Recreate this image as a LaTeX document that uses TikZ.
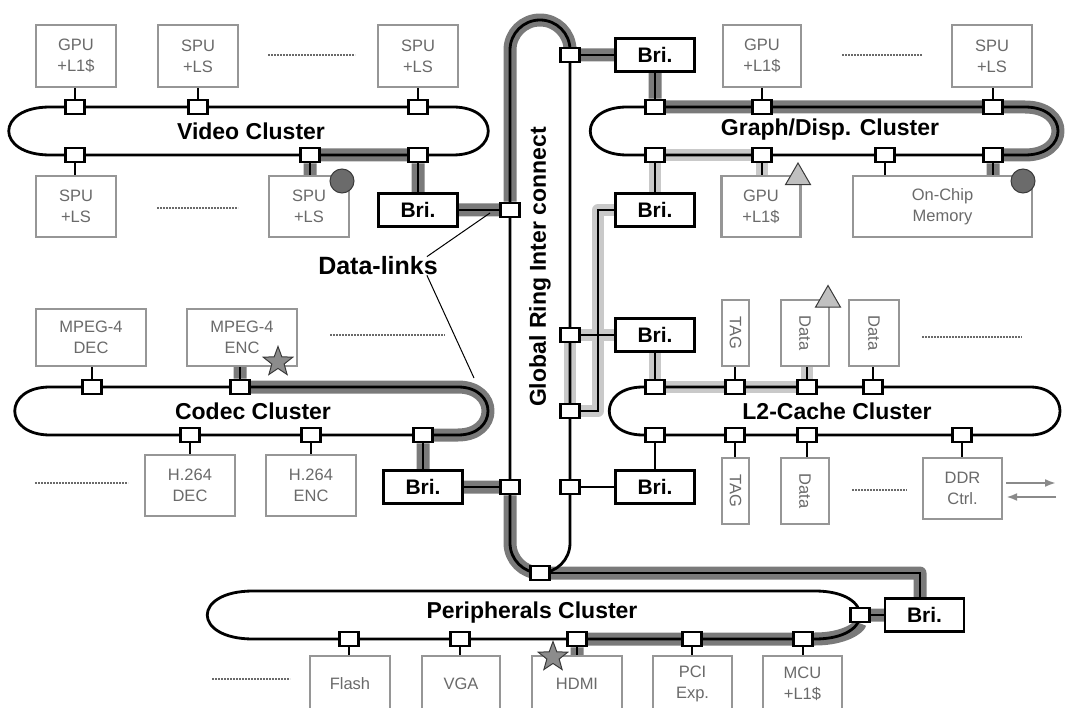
\documentclass[tikz,border=0pt]{standalone}
\usepackage{fontspec}
\setmainfont{Liberation Sans}
\usepackage{xcolor}
\definecolor{bandD}{HTML}{7A7A7A}
\definecolor{bandL}{HTML}{C9C9C9}
\definecolor{boxG}{HTML}{969696}
\definecolor{txtG}{HTML}{6A6A6A}
\definecolor{dotG}{HTML}{6A6A6A}
\definecolor{markE}{HTML}{3A3A3A}
\definecolor{markC}{HTML}{6B6B6B}
\definecolor{markS}{HTML}{8C8C8C}
\definecolor{markT}{HTML}{C0C0C0}
\definecolor{arrG}{HTML}{8A8A8A}
\usepackage{tikz}
\usetikzlibrary{arrows.meta,shapes.geometric,calc,backgrounds}
\tikzset{
  >={Latex[length=11pt,width=8pt]},
  ring/.style={draw=black,line width=2.8pt},
  link/.style={draw=black,line width=2.2pt},
  dband/.style={draw=bandD,line width=13pt,line join=round},
  lband/.style={draw=bandL,line width=12pt,line join=round},
  unitbox/.style={draw=boxG,fill=white,line width=2.4pt,inner sep=0pt,align=center,text=txtG,
    font=\fontsize{16.5}{21}\selectfont},
  bri/.style={draw=black,fill=white,line width=2.6pt,inner sep=0pt,minimum width=79pt,minimum height=33pt,
    font=\fontsize{21}{24}\selectfont\bfseries},
  port/.style={draw=black,fill=white,line width=2.6pt,inner sep=0pt,minimum width=19pt,minimum height=14pt},
  clab/.style={font=\fontsize{23}{26}\selectfont\bfseries,inner sep=0pt},
  more/.style={draw=dotG,line width=2pt,dash pattern=on 1.6pt off 1.4pt},
  hit/.style={circle,draw=markE,fill=markC,line width=1pt,minimum size=24pt,inner sep=0pt},
  tri/.style={regular polygon,regular polygon sides=3,draw=markE,fill=markT,line width=1pt,minimum size=29pt,inner sep=0pt},
  starm/.style={star,star points=5,star point ratio=2.4,draw=markE,fill=markS,line width=1pt,minimum size=31pt,inner sep=0pt},
  garr/.style={->,draw=arrG,line width=2pt},
}

\begin{document}
\begin{tikzpicture}[x=1pt,y=-1pt]
  \useasboundingbox (0,0) rectangle (1065,708);
  % video cluster
  \node[unitbox,minimum width=80pt,minimum height=62pt] (vT1) at (76,56) {GPU\\+L1\$};
  \node[unitbox,minimum width=80pt,minimum height=62pt] (vT2) at (198,56) {SPU\\+LS};
  \node[unitbox,minimum width=80pt,minimum height=62pt] (vT3) at (418,56) {SPU\\+LS};
  \node[unitbox,minimum width=80pt,minimum height=61pt] (vB1) at (76,206.5) {SPU\\+LS};
  \node[unitbox,minimum width=80pt,minimum height=61pt] (vB2) at (309,206.5) {SPU\\+LS};
  \node[bri] (bV) at (418,210) {Bri.};
  % graph/disp. cluster
  \node[unitbox,minimum width=78pt,minimum height=62pt] (gT1) at (762,56) {GPU\\+L1\$};
  \node[unitbox,minimum width=80pt,minimum height=62pt] (gT2) at (992,56) {SPU\\+LS};
  \node[unitbox,minimum width=79pt,minimum height=61pt] (gB1) at (761,206.5) {GPU\\+L1\$};
  \node[unitbox,minimum width=179pt,minimum height=61pt] (gB2) at (942.5,206.5) {On-Chip\\Memory};
  \node[bri] (bGt) at (655,55) {Bri.};
  \node[bri] (bGl) at (655,210) {Bri.};
  % codec cluster
  \node[unitbox,minimum width=110pt,minimum height=57pt] (cT1) at (91,337.5) {MPEG-4\\DEC};
  \node[unitbox,minimum width=110pt,minimum height=57pt] (cT2) at (242,337.5) {MPEG-4\\ENC};
  \node[unitbox,minimum width=90pt,minimum height=61pt] (cB1) at (190,485.5) {H.264\\DEC};
  \node[unitbox,minimum width=90pt,minimum height=61pt] (cB2) at (311,485.5) {H.264\\ENC};
  \node[bri] (bC) at (423,487) {Bri.};
  % l2-cache cluster
  \node[unitbox,rotate=-90,minimum width=66pt,minimum height=27pt] (lT1) at (735.5,333) {TAG};
  \node[unitbox,rotate=-90,minimum width=66pt,minimum height=48pt] (lT2) at (805,333) {Data};
  \node[unitbox,rotate=-90,minimum width=66pt,minimum height=50pt] (lT3) at (874,333) {Data};
  \node[unitbox,rotate=-90,minimum width=66pt,minimum height=27pt] (lB1) at (735.5,491) {TAG};
  \node[unitbox,rotate=-90,minimum width=66pt,minimum height=48pt] (lB2) at (805,491) {Data};
  \node[unitbox,minimum width=79pt,minimum height=61pt] (lB3) at (962.5,488.5) {DDR\\Ctrl.};
  \node[bri] (bLu) at (655,335) {Bri.};
  \node[bri] (bLl) at (655,487) {Bri.};
  % peripherals cluster
  \node[unitbox,minimum width=80pt,minimum height=55pt] (pB1) at (350,683.5) {Flash};
  \node[unitbox,minimum width=78pt,minimum height=55pt] (pB2) at (461,683.5) {VGA};
  \node[unitbox,minimum width=90pt,minimum height=55pt] (pB3) at (577,683.5) {HDMI};
  \node[unitbox,minimum width=79pt,minimum height=55pt] (pB4) at (692.5,683.5) {PCI\\Exp.};
  \node[unitbox,minimum width=79pt,minimum height=55pt] (pB5) at (802.5,683.5) {MCU\\+L1\$};
  \node[bri] (bP) at (924.5,615) {Bri.};
  % ring ports
  \foreach \n/\x/\y in {vp1/75/107,vp2/198/107,vp3/418/107,vp4/75/155,vp5/310/155,vp6/418/155,
      gp1/655/107,gp2/762/107,gp3/993/107,gp4/655/155,gp5/762/155,gp6/885/155,gp7/993/155,
      cp1/92/387,cp2/240/387,cp3/190/435,cp4/311/435,cp5/423/435,
      lp1/655/387,lp2/735/387,lp3/807/387,lp4/873/387,lp5/655/435,lp6/735/435,lp7/807/435,lp8/962/435,
      pp1/349/639,pp2/460/639,pp3/577/639,pp4/692/639,pp5/803/639,pp6/860/615,
      gr1/570/55,gr2/510/210,gr3/570/335,gr4/570/411,gr5/510/487,gr6/570/487,gr7/540/573}
    \node[port] (\n) at (\x,\y) {};
  \coordinate (jL) at (598,210);
  \coordinate (pk) at (920,573);
  \begin{scope}[on background layer]
    % data-link routes
    \draw[dband] (vp5 |- vB2) -- (vp5) -- (vp6) -- (bV) -- (gr2) -- (510,50)
      .. controls (510,33.4) and (523.4,20) .. (540,20) .. controls (556.6,20) and (570,33.4) .. (570,50)
      -- (gr1) -- (bGt) -- (gp1) -- (1025,107) .. controls (1069,107) and (1069,155) .. (1025,155)
      -- (gp7) -- (gp7 |- gB2);
    \draw[dband] (cp2 |- cT2) -- (cp2) -- (458,387) .. controls (498,387) and (498,435) .. (458,435)
      -- (cp5) -- (bC) -- (gr5) -- (510,543) .. controls (510,559.6) and (523.4,573) .. (540,573)
      -- (pk) -- (pk |- bP) -- (bP) -- (pp6) .. controls (860,627) and (845,639) .. (815,639)
      -- (pp3) -- (pp3 |- pB3);
    \draw[lband] (gp5 |- gB1) -- (gp5) -- (gp4) -- (bGl) -- (jL) -- (jL |- gr4) -- (gr4) -- (gr3)
      -- (bLu) -- (lp1) -- (lp3) -- (lp3 |- lT2);
    % rings
    \draw[ring] (510,50) -- (510,543) .. controls (510,559.6) and (523.4,573) .. (540,573)
      .. controls (556.6,573) and (570,559.6) .. (570,543) -- (570,50)
      .. controls (570,33.4) and (556.6,20) .. (540,20) .. controls (523.4,20) and (510,33.4) .. cycle;
    \draw[ring] (50,107) -- (453,107) .. controls (500,107) and (500,155) .. (453,155) -- (50,155)
      .. controls (-5,155) and (-5,107) .. cycle;
    \draw[ring] (627,107) -- (1025,107) .. controls (1069,107) and (1069,155) .. (1025,155) -- (627,155)
      .. controls (578,155) and (578,107) .. cycle;
    \draw[ring] (50,387) -- (458,387) .. controls (498,387) and (498,435) .. (458,435) -- (50,435)
      .. controls (3,435) and (3,387) .. cycle;
    \draw[ring] (643,387) -- (1030,387) .. controls (1070,387) and (1070,435) .. (1030,435) -- (643,435)
      .. controls (598,435) and (598,387) .. cycle;
    \draw[ring] (253,591) -- (815,591) .. controls (875,591) and (875,639) .. (815,639) -- (253,639)
      .. controls (192,639) and (192,591) .. cycle;
    % bridges
    \draw[link] (gr1) -- (bGt) -- (gp1);
    \draw[link] (gr2) -- (bV) -- (vp6);
    \draw[link] (gp4) -- (bGl) -- (jL) -- (jL |- gr4) -- (gr4);
    \draw[link] (gr3) -- (bLu) -- (lp1);
    \draw[link] (gr5) -- (bC) -- (cp5);
    \draw[link] (gr6) -- (bLl) -- (lp5);
    \draw[link] (gr7) -- (pk) -- (pk |- bP.north);
    \draw[link] (bP) -- (pp6);
    \foreach \p/\u in {vp1/vT1,vp2/vT2,vp3/vT3,vp4/vB1,vp5/vB2,gp2/gT1,gp3/gT2,gp5/gB1,gp6/gB2,gp7/gB2,
        cp1/cT1,cp2/cT2,cp3/cB1,cp4/cB2,lp2/lT1,lp3/lT2,lp4/lT3,lp6/lB1,lp7/lB2,lp8/lB3,
        pp1/pB1,pp2/pB2,pp3/pB3,pp4/pB4,pp5/pB5}
      \draw[link] (\p) -- (\p |- \u);
  \end{scope}
  % more units
  \draw[more] (268,55) -- (355,55);
  \draw[more] (157,208) -- (238,208);
  \draw[more] (842,55) -- (922,55);
  \draw[more] (330,335) -- (445,335);
  \draw[more] (35,483) -- (128,483);
  \draw[more] (922,337) -- (1022,337);
  \draw[more] (852,490) -- (907,490);
  \draw[more] (212,679) -- (290,679);
  % labels
  \node[clab] (lv) at (251,131) {Video Cluster};
  \node[clab] (lg) at (830,130) {Graph/Disp. Cluster};
  \node[clab] (lc) at (253,411) {Codec Cluster};
  \node[clab] (ll) at (837,411) {L2-Cache Cluster};
  \node[clab] (lp) at (532,613) {Peripherals Cluster};
  \node[clab,rotate=90] (lr) at (540,267) {Global Ring Inter connect};
  \node[clab,font=\fontsize{25}{28}\selectfont\bfseries,inner sep=1pt] (dl) at (378,266) {Data-links};
  \coordinate (dlA) at (490,213);
  \coordinate (dlB) at (474,378);
  \draw[line width=1pt] ($(dl.north east)+(-12,1)$) -- (dlA);
  \draw[line width=1pt] ($(dl.south east)+(-12,-1)$) -- (dlB);
  % ddr traffic
  \coordinate (ddrO) at (1056,483);
  \coordinate (ddrI) at (1056,497);
  \draw[garr] ([xshift=3pt]lB3.east |- ddrO) -- (ddrO);
  \draw[garr] (ddrI) -- ([xshift=3pt]lB3.east |- ddrI);
  % source / sink marks
  \node[hit] (mV) at (342,181) {};
  \node[hit] (mG) at (1023,181) {};
  \node[tri] (tG) at (798,177.5) {};
  \node[tri] (tL) at (828,300) {};
  \node[starm] (sC) at (278,362) {};
  \node[starm] (sP) at (553,657) {};
\end{tikzpicture}
\end{document}
